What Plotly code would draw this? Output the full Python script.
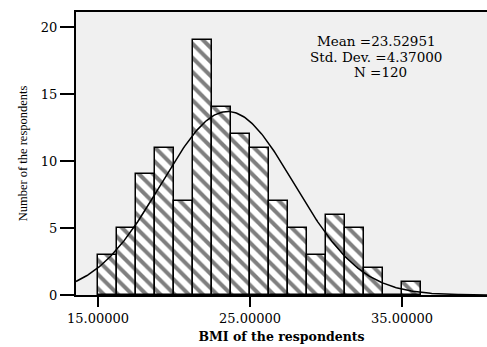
import numpy as np
import plotly.graph_objects as go

# Histogram data (counts per bin), bins of width 1.25 starting at 15.0
BIN_START = 15.0
BIN_WIDTH = 1.25
COUNTS = [3, 5, 9, 11, 7, 19, 14, 12, 11, 7, 5, 3, 6, 5, 2, 0, 1]

MEAN = 23.52951
SD = 4.37000
N = 120

X_TICKS = [15, 25, 35]
X_TICK_LABELS = ["15.00000", "25.00000", "35.00000"]
Y_TICKS = [0, 5, 10, 15, 20]

X_RANGE = [13.55, 40.59]
Y_RANGE = [0, 21.12]

edges = [BIN_START + i * BIN_WIDTH for i in range(len(COUNTS))]

FONT = "Liberation Serif"
WIDE = "DejaVu Serif"

fig = go.Figure()
fig.add_trace(go.Bar(
    x=edges, y=COUNTS, width=BIN_WIDTH, offset=0,
    marker=dict(color="white",
                line=dict(color="black", width=1.5),
                pattern=dict(shape="\\", fgcolor="black", bgcolor="white",
                             size=10, solidity=0.4, fillmode="overlay")),
    showlegend=False, hoverinfo="skip",
))

xs = np.linspace(X_RANGE[0], X_RANGE[1], 300)
ys = N * BIN_WIDTH / (SD * np.sqrt(2 * np.pi)) * np.exp(-0.5 * ((xs - MEAN) / SD) ** 2)
fig.add_trace(go.Scatter(x=xs, y=ys, mode="lines",
                         line=dict(color="black", width=1.5),
                         showlegend=False, hoverinfo="skip"))

ann_lines = [f"Mean ={MEAN:.5f}", f"Std. Dev. ={SD:.5f}", f"N ={N}"]
ann_px = [(376, 41), (376, 56.5), (380, 72)]
for t, (px, py) in zip(ann_lines, ann_px):
    fig.add_annotation(x=(px - 76) / 411, y=1 - (py - 12) / 283,
                       xref="paper", yref="paper", xanchor="center", yanchor="middle",
                       text=t, showarrow=False,
                       font=dict(family=WIDE, size=13.5, color="black"))

fig.update_layout(
    width=487, height=347,
    margin=dict(l=76, r=0, t=12, b=52),
    paper_bgcolor="white", plot_bgcolor="#f0f0f0",
    bargap=0,
    font=dict(family=FONT, size=13, color="black"),
)
fig.update_xaxes(
    range=X_RANGE, tickvals=X_TICKS, ticktext=X_TICK_LABELS,
    showgrid=False, zeroline=False,
    showline=True, linecolor="black", linewidth=2, mirror=True,
    ticks="outside", ticklen=10, tickwidth=2, tickcolor="black",
    tickfont=dict(family=WIDE, size=13),
    title=dict(text="<b>BMI of the respondents</b>", font=dict(family=WIDE, size=12.5), standoff=8),
)
fig.update_yaxes(
    range=Y_RANGE, tickvals=Y_TICKS,
    showgrid=False, zeroline=False,
    showline=True, linecolor="black", linewidth=2,
    ticks="outside", ticklen=14, tickwidth=2, tickcolor="black",
    tickfont=dict(family=WIDE, size=13),
    title=dict(text="Number of the respondents", font=dict(family=FONT, size=12.5), standoff=10),
)

POST = "document.body.style.margin='0';document.body.style.overflow='hidden';"
fig.write_html("out.html", config={"displayModeBar": False}, post_script=POST)
